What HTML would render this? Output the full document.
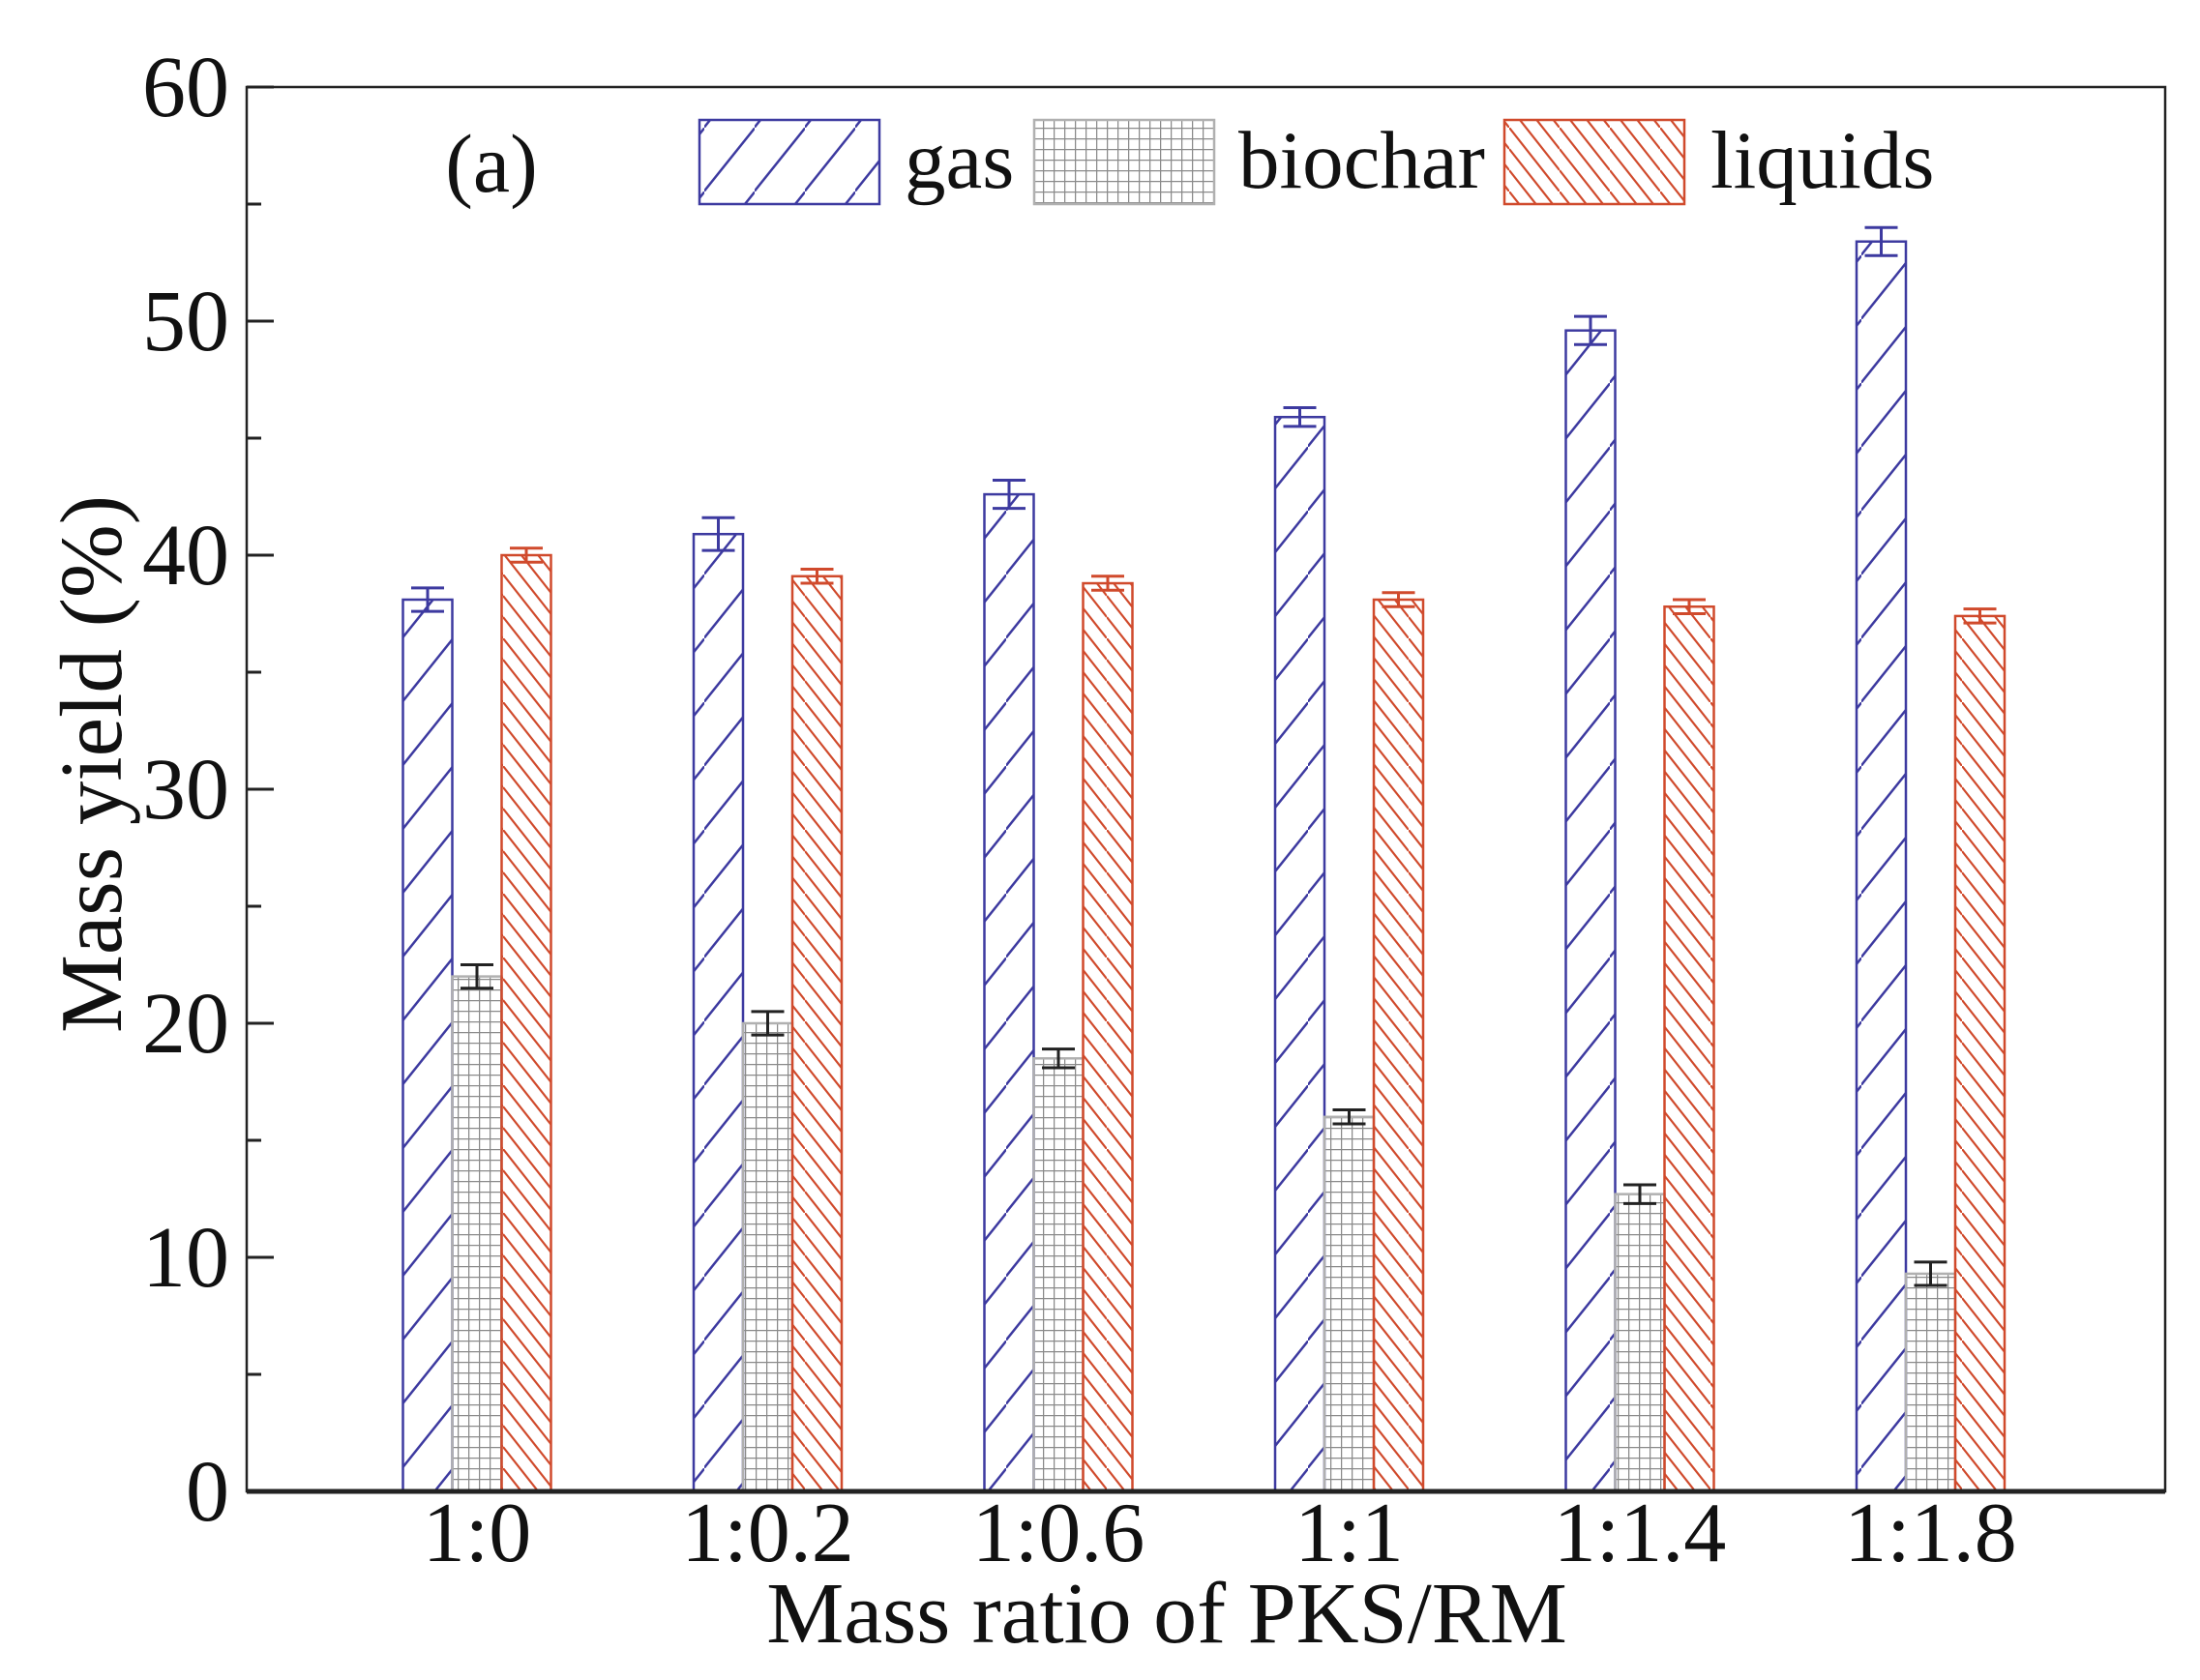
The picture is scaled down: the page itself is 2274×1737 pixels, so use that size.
<!DOCTYPE html>
<html><head><meta charset="utf-8"><style>body{margin:0;background:#fff}svg{display:block}text{font-family:"Liberation Serif",serif;fill:#111}</style></head>
<body>
<svg id="chart" width="2274" height="1737" viewBox="0 0 2274 1737" xmlns="http://www.w3.org/2000/svg">
<defs>
<pattern id="pGas" patternUnits="userSpaceOnUse" width="52" height="66"><line x1="-2" y1="68" x2="54" y2="-2" stroke="#3d3aa0" stroke-width="2.5"/></pattern>
<pattern id="pLiq" patternUnits="userSpaceOnUse" width="52" height="66"><g stroke="#d04a2c" stroke-width="2.2"><line x1="0" y1="0" x2="52" y2="66"/><line x1="0" y1="-22" x2="52" y2="44"/><line x1="0" y1="-44" x2="52" y2="22"/><line x1="0" y1="22" x2="52" y2="88"/><line x1="0" y1="44" x2="52" y2="110"/></g></pattern>
<pattern id="pBio" patternUnits="userSpaceOnUse" width="11" height="11"><path d="M0 0H11M0 0V11" stroke="#8a8a8a" stroke-width="2.5" fill="none"/></pattern>
</defs>
<g id="plot"></g>
</svg>
<script>
const categories=["1:0","1:0.2","1:0.6","1:1","1:1.4","1:1.8"];
const gasValues=[38.1,40.9,42.6,45.9,49.6,53.4];
const gasErrors=[0.5,0.7,0.6,0.4,0.6,0.6];
const biocharValues=[22.0,20.0,18.5,16.0,12.7,9.3];
const biocharErrors=[0.5,0.5,0.4,0.3,0.4,0.5];
const liquidsValues=[40.0,39.1,38.8,38.1,37.8,37.4];
const liquidsErrors=[0.3,0.3,0.3,0.3,0.3,0.3];
const yTicks=[0,10,20,30,40,50,60];
const legendLabels=["gas","biochar","liquids"];

const NS="http://www.w3.org/2000/svg";
const L=255,R=2238,T=90,B=1542;
const y=v=>B-(v/60)*(B-T);
const xc=i=>493+i*300.5;
const BW=51;
const g=document.getElementById('plot');
function mk(tag,attrs,parent){const e=document.createElementNS(NS,tag);for(const k in attrs)e.setAttribute(k,attrs[k]);(parent||g).appendChild(e);return e;}

const series=[
 {vals:gasValues,errs:gasErrors,fill:"url(#pGas)",stroke:"#3d3aa0",off:-1,name:"gas"},
 {vals:biocharValues,errs:biocharErrors,fill:"url(#pBio)",stroke:"#b0b0b0",off:0,name:"biochar"},
 {vals:liquidsValues,errs:liquidsErrors,fill:"url(#pLiq)",stroke:"#d04a2c",off:1,name:"liquids"}];
const errColors=["#3d3aa0","#222","#d04a2c"];
series.forEach((s,si)=>{
 s.vals.forEach((v,i)=>{
  const x=xc(i)+s.off*BW-BW/2;
  const r=mk('rect',{x:x,y:y(v),width:BW,height:B-y(v),fill:s.fill,stroke:s.stroke,'stroke-width':2.5});
  
  
  const cx=x+BW/2,e=s.errs[i],c=errColors[si];
  const eb=mk('path',{d:`M${cx-17} ${y(v+e)}H${cx+17}M${cx-17} ${y(v-e)}H${cx+17}M${cx} ${y(v+e)}V${y(v-e)}`,stroke:c,'stroke-width':3,fill:'none'});
  
  
 });
});
const fr=mk('rect',{x:L,y:T,width:R-L,height:B-T,fill:'none',stroke:'#222','stroke-width':2.5});


const xa=mk('line',{x1:L,y1:B,x2:R,y2:B,stroke:'#222','stroke-width':5});


yTicks.forEach(t=>{
 mk('line',{x1:L,y1:y(t),x2:L+28,y2:y(t),stroke:'#222','stroke-width':3});
 if(t<60) mk('line',{x1:L,y1:y(t+5),x2:L+15,y2:y(t+5),stroke:'#222','stroke-width':3});
 const tx=mk('text',{x:237,y:y(t)+30,'text-anchor':'end','font-size':90});
 tx.textContent=t;
 
 
});
categories.forEach((c,i)=>{
 const tx=mk('text',{x:xc(i),y:1614,'text-anchor':'middle','font-size':88});
 tx.textContent=c;
 
 
});
const xt=mk('text',{x:1206,y:1698,'text-anchor':'middle','font-size':90});
xt.textContent="Mass ratio of PKS/RM";


const yt=mk('text',{x:0,y:0,'text-anchor':'middle','font-size':91,transform:'translate(125,790) rotate(-90)'});
yt.textContent="Mass yield (%)";


const pa=mk('text',{x:508,y:198,'text-anchor':'middle','font-size':86});
pa.textContent="(a)";


const lgX=[723,1069,1555],lgT=[935,1280,1768];
series.forEach((s,i)=>{
 const r=mk('rect',{x:lgX[i],y:124,width:186,height:87,fill:s.fill,stroke:s.stroke,'stroke-width':2.5});
 
 
 const t=mk('text',{x:lgT[i],y:194,'font-size':85});
 t.textContent=legendLabels[i];
 
 
});
</script>
</body></html>
